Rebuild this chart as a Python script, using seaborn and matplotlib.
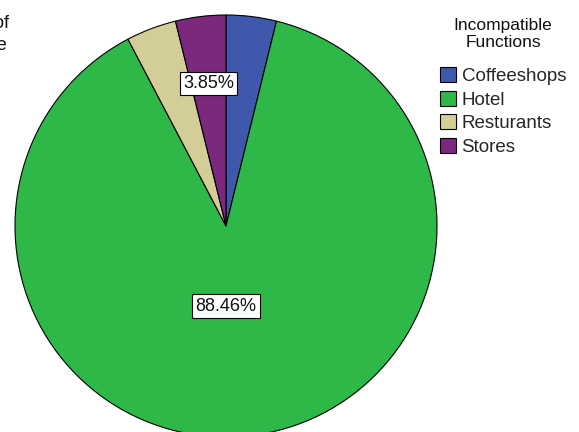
import numpy as np
import matplotlib
matplotlib.use("Agg")
import matplotlib.pyplot as plt
import seaborn as sns

# Frequencies of incompatible functions
categories = ["Coffeeshops", "Hotel", "Resturants", "Stores"]
counts = [1, 23, 1, 1]
legend_title = "Incompatible\nFunctions"

sns.set_theme(style="white")
plt.rcParams["font.family"] = ["Liberation Sans", "DejaVu Sans"]

palette = sns.color_palette(["#3E58AC", "#2EB848", "#D3CE97", "#7C287D"])

W, H, DPI = 579, 432, 100
fig = plt.figure(figsize=(W / DPI, H / DPI), dpi=DPI)

# pie centre and radius in pixels
cx, cy, R = 226, 226, 211
ax = fig.add_axes([(cx - R) / W, (H - cy - R) / H, 2 * R / W, 2 * R / H])

wedges, texts, autotexts = ax.pie(
    counts,
    colors=palette,
    startangle=90,
    counterclock=False,
    autopct="%.2f%%",
    wedgeprops=dict(edgecolor="black", linewidth=0.8),
    textprops=dict(fontsize=13, color="#111111"),
)
ax.set_xlim(-1, 1)
ax.set_ylim(-1, 1)
ax.set_aspect("auto")
ax.axis("off")

# only the Hotel and Stores percentages are shown
label_place = {1: (-90, 0.38), 3: None}
for i, t in enumerate(autotexts):
    if i not in label_place:
        t.set_visible(False)
        continue
    w = wedges[i]
    if label_place[i] is None:
        ang, dist = (w.theta1 + w.theta2) / 2, 0.68
    else:
        ang, dist = label_place[i]
    a = np.deg2rad(ang)
    t.set_position((dist * np.cos(a), dist * np.sin(a)))
    t.set_bbox(dict(boxstyle="square,pad=0.18", fc="white", ec="black", lw=0.8))

# legend title, then the entries
fig.text(503 / W, 1 - 34 / H, legend_title, ha="center", va="center",
         multialignment="center", linespacing=1.2, fontsize=12.5, color="#111111")

leg = fig.legend(
    wedges, categories,
    loc="upper left",
    bbox_to_anchor=(440 / W, 1 - 67 / H),
    frameon=False,
    fontsize=13.5,
    handlelength=0.85,
    handleheight=0.85,
    handletextpad=0.3,
    labelspacing=0.3,
    borderpad=0,
    borderaxespad=0,
)
for h in leg.legend_handles:
    h.set_edgecolor("black")
    h.set_linewidth(0.8)

# clipped axis caption at the left edge
fig.text(9 / W, 1 - 28 / H, "Percent of", ha="right", va="baseline", fontsize=13, color="#111111")
fig.text(7 / W, 1 - 50 / H, "Incompatible Type", ha="right", va="baseline", fontsize=13, color="#111111")

fig.savefig("out.png", dpi=DPI)
